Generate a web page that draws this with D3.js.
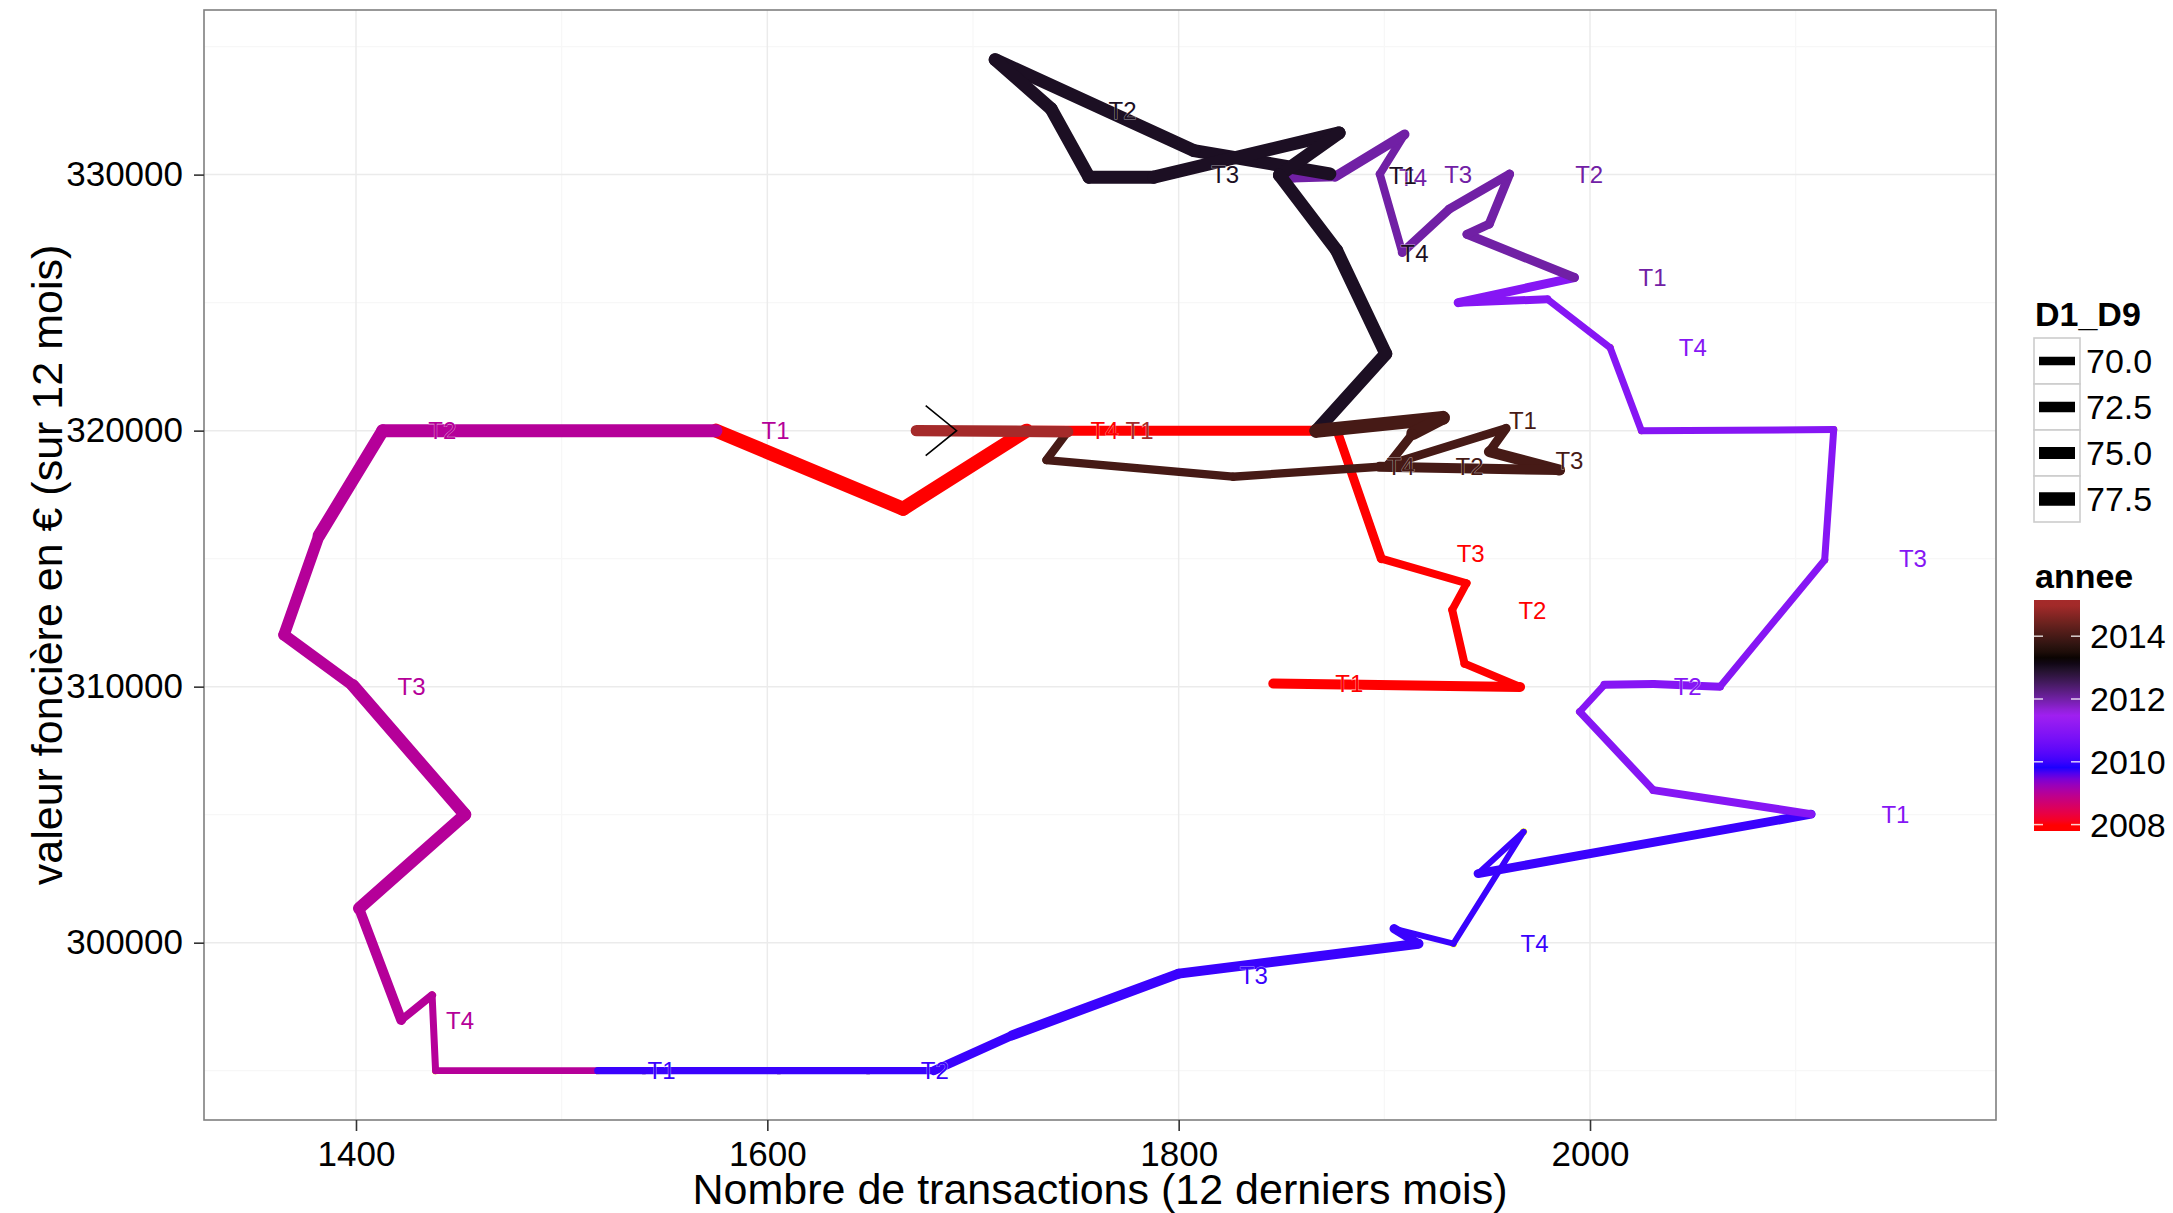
<!DOCTYPE html>
<html>
<head>
<meta charset="utf-8">
<script src="https://cdn.jsdelivr.net/npm/d3@7"></script>
<style>
  html, body { margin: 0; padding: 0; background: #ffffff; }
  text { font-family: "Liberation Sans", Arial, sans-serif; }
</style>
</head>
<body>
<svg id="chart" width="2173" height="1213"></svg>
<script>
// ---------------- DATA ----------------
const pathX = [
  1846, 1966, 1939, 1933, 1940, 1898.5, 1877, 1726, 1666,
  1575, 1413, 1382, 1365, 1398.5, 1453, 1401.5, 1422, 1437, 1438.7,
  1517.6, 1540, 1605.6, 1649, 1681, 1719, 1800, 1916.6, 1904.7, 1933.6, 1967.7, 1945.6,
  2107.5, 2030.8, 1995, 2007, 2030.8, 2063.2, 2114.1, 2118.5, 2025, 2009.8, 1979.3, 1935.9,
  1992.4, 1940.2, 1951, 1960.9, 1931.5, 1908.7, 1897.8, 1909.8, 1876, 1855,
  1873.5, 1807.4, 1710.8, 1738, 1756.4, 1787.9, 1878, 1849, 1876.8, 1900.7,
  1866.9, 1928.5, 1913.9, 1901.8, 1959.2, 1951.1, 1985.2, 1897.7, 1826.3, 1735.7,
  1746, 1672.5
];
const pathY = [
  310120, 309990, 310900, 313000, 314040, 315000, 320000, 320000, 316950,
  320000, 320000, 315900, 312020, 310050, 305000, 301340, 296980, 297950, 295000,
  295000, 295000, 295000, 295000, 295000, 296380, 298790, 299960, 300550, 299960, 304330, 302700,
  305020, 305960, 309020, 310070, 310100, 310000, 314950, 320040, 320000, 323240, 325130, 325000,
  325980, 327670, 328070, 330020, 328650, 326960, 330020, 331570, 329920, 329870,
  330030, 330940, 334490, 332570, 329900, 329900, 331630, 329980, 327040, 323000,
  319990, 320500, 319890, 318660, 320090, 319180, 318460, 318590, 318200, 318850,
  319960, 320000
];
const pathYear = [
  2008, 2008, 2008, 2008, 2008, 2008, 2008, 2008, 2008,
  2009, 2009, 2009, 2009, 2009, 2009, 2009, 2009, 2009, 2009,
  2010, 2010, 2010, 2010, 2010, 2010, 2010, 2010, 2010, 2010, 2010, 2010,
  2011, 2011, 2011, 2011, 2011, 2011, 2011, 2011, 2011, 2011, 2011, 2011,
  2012, 2012, 2012, 2012, 2012, 2012, 2012, 2012, 2012, 2012,
  2013, 2013, 2013, 2013, 2013, 2013, 2013, 2013, 2013, 2013,
  2014, 2014, 2014, 2014, 2014, 2014, 2014, 2014, 2014, 2014,
  2015, 2015
];
const pathD1D9 = [
  72.1, 69.1, 69.1, 68.4, 69.1, 70.6, 72.1, 78.1, 78.1,
  76.6, 76.0, 74.3, 74.3, 76.0, 75.5, 72.1, 69.1, 67.6, 67.2,
  68.1, 68.1, 68.1, 68.1, 70.6, 72.1, 72.1, 70.6, 66.1, 66.1, 66.1, 70.6,
  69.1, 68.4, 67.6, 69.1, 69.1, 67.6, 67.6, 67.6, 67.6, 67.6, 69.1, 70.6,
  70.6, 70.6, 70.6, 70.6, 70.6, 69.1, 69.1, 72.1, 70.6, 70.6,
  76.6, 76.6, 76.6, 76.6, 76.6, 76.6, 76.6, 76.6, 76.6, 76.6,
  78.1, 77.0, 70.6, 69.9, 70.6, 73.6, 72.1, 69.6, 69.6, 69.6,
  74.3, 74.3
];

const labelText = [
  "T1", "T2", "T3", "T4",
  "T1", "T2", "T3", "T4",
  "T1", "T2", "T3", "T4",
  "T1", "T2", "T3", "T4",
  "T1", "T2", "T3", "T4",
  "T1", "T2", "T3", "T4",
  "T1", "T2", "T3", "T4",
  "T1"
];
const labelX = [
  1883, 1972, 1942, 1764,
  1604, 1442, 1427, 1450.6,
  1548.6, 1681.4, 1836.5, 1973,
  2148.5, 2047.5, 2157, 2050,
  2030.4, 1999.6, 1935.9, 1914,
  1909, 1772.7, 1822.6, 1914.7,
  1967.4, 1941.4, 1990, 1908,
  1781
];
const labelY = [
  310110, 312990, 315220, 320000,
  320000, 320000, 310000, 296977,
  295020, 295020, 298720, 299960,
  305020, 310000, 315000, 323230,
  325980, 330000, 330000, 329900,
  329950, 332500, 330000, 326930,
  320410, 318590, 318850, 318590,
  320000
];
const labelYear = [
  2008, 2008, 2008, 2008,
  2009, 2009, 2009, 2009,
  2010, 2010, 2010, 2010,
  2011, 2011, 2011, 2011,
  2012, 2012, 2012, 2012,
  2013, 2013, 2013, 2013,
  2014, 2014, 2014, 2014,
  2015
];

const arrowX = [1677, 1692, 1677];
const arrowY = [320980, 320000, 319020];

const xTicks = [1400, 1600, 1800, 2000];
const xMinor = [1500, 1700, 1900, 2100];
const yTicks = [300000, 310000, 320000, 330000];
const yMinor = [295000, 305000, 315000, 325000, 335000];
const sizeBreaks = [70.0, 72.5, 75.0, 77.5];
const sizeLabels = ["70.0", "72.5", "75.0", "77.5"];
const yearBreaks = [2014, 2012, 2010, 2008];

const colourStops = ["#FF0000", "#0000FF", "#A020F0", "#000000", "#A52A2A"];

// ---------------- SCALES ----------------
const P = { left: 204, right: 1996, top: 10, bottom: 1120 };
const x = d3.scaleLinear().domain([1326.1, 2197.4]).range([P.left, P.right]);
const y = d3.scaleLinear().domain([293074, 336430]).range([P.bottom, P.top]);
const colour = d3.scaleLinear()
  .domain([2008, 2009.75, 2011.5, 2013.25, 2015])
  .range(colourStops)
  .interpolate(d3.interpolateLab)
  .clamp(true);
const lw = d3.scaleLinear().domain([70, 77.5]).range([8.6, 13.6]);

const svg = d3.select("#chart");
svg.append("rect").attr("width", 2173).attr("height", 1213).attr("fill", "#ffffff");

svg.append("rect").attr("x", P.left).attr("y", P.top)
  .attr("width", P.right - P.left).attr("height", P.bottom - P.top).attr("fill", "#ffffff");

// grid
const grid = svg.append("g");
grid.selectAll(".vmin").data(xMinor.filter(v => x(v) > P.left && x(v) < P.right)).join("line")
  .attr("x1", d => x(d)).attr("x2", d => x(d)).attr("y1", P.top).attr("y2", P.bottom)
  .attr("stroke", "#F7F7F7").attr("stroke-width", 1.2);
grid.selectAll(".hmin").data(yMinor.filter(v => y(v) > P.top && y(v) < P.bottom)).join("line")
  .attr("y1", d => y(d)).attr("y2", d => y(d)).attr("x1", P.left).attr("x2", P.right)
  .attr("stroke", "#F7F7F7").attr("stroke-width", 1.2);
grid.selectAll(".vmaj").data(xTicks).join("line")
  .attr("x1", d => x(d)).attr("x2", d => x(d)).attr("y1", P.top).attr("y2", P.bottom)
  .attr("stroke", "#EBEBEB").attr("stroke-width", 1.5);
grid.selectAll(".hmaj").data(yTicks).join("line")
  .attr("y1", d => y(d)).attr("y2", d => y(d)).attr("x1", P.left).attr("x2", P.right)
  .attr("stroke", "#EBEBEB").attr("stroke-width", 1.5);

// data
const pts = pathX.map((v, i) => ({ x: v, y: pathY[i], year: pathYear[i], d: pathD1D9[i] }));
const segs = pts.slice(0, -1).map((p, i) => ({ a: p, b: pts[i + 1] }));

const plot = svg.append("g");
plot.selectAll("circle.pt").data(pts).join("circle")
  .attr("cx", d => x(d.x)).attr("cy", d => y(d.y)).attr("r", 3.6)
  .attr("fill", "#FFFF00");

plot.selectAll("line.seg").data(segs).join("line")
  .attr("x1", d => x(d.a.x)).attr("y1", d => y(d.a.y))
  .attr("x2", d => x(d.b.x)).attr("y2", d => y(d.b.y))
  .attr("stroke", d => colour(d.a.year))
  .attr("stroke-width", d => lw(d.a.d))
  .attr("stroke-linecap", "round");

// arrow
const arrowLine = d3.line().x(d => x(d[0])).y(d => y(d[1]));
plot.append("path")
  .attr("d", arrowLine(arrowX.map((v, i) => [v, arrowY[i]])))
  .attr("fill", "none").attr("stroke", "#000000").attr("stroke-width", 1.6);

// labels
const labs = labelText.map((t, i) => ({ t, x: labelX[i], y: labelY[i], year: labelYear[i] }));
plot.selectAll("text.lab").data(labs).join("text")
  .attr("x", d => x(d.x)).attr("y", d => y(d.y))
  .attr("text-anchor", "middle").attr("dominant-baseline", "central")
  .attr("font-size", 24)
  .attr("fill", d => colour(d.year))
  .attr("stroke", "#ffffff").attr("stroke-opacity", 0.6).attr("stroke-width", 0.9)
  .attr("paint-order", "stroke")
  .text(d => d.t);

// panel border
svg.append("rect").attr("x", P.left).attr("y", P.top)
  .attr("width", P.right - P.left).attr("height", P.bottom - P.top)
  .attr("fill", "none").attr("stroke", "#7F7F7F").attr("stroke-width", 1.6);

// axes
const xAxis = svg.append("g").attr("transform", `translate(0,${P.bottom})`)
  .call(d3.axisBottom(x).tickValues(xTicks).tickSize(11).tickPadding(10).tickFormat(d3.format("d")));
const yAxis = svg.append("g").attr("transform", `translate(${P.left},0)`)
  .call(d3.axisLeft(y).tickValues(yTicks).tickSize(10).tickPadding(11).tickFormat(d3.format("d")));
[xAxis, yAxis].forEach(g => {
  g.select(".domain").remove();
  g.selectAll(".tick line").attr("stroke", "#333333").attr("stroke-width", 1.6);
  g.selectAll(".tick text").attr("fill", "#000000").attr("font-size", 35)
    .attr("font-family", "'Liberation Sans', Arial, sans-serif");
});

// axis titles
svg.append("text").attr("x", (P.left + P.right) / 2).attr("y", 1204)
  .attr("text-anchor", "middle").attr("font-size", 43).attr("fill", "#000")
  .text("Nombre de transactions (12 derniers mois)");
svg.append("text")
  .attr("transform", `translate(62,${(P.top + P.bottom) / 2}) rotate(-90)`)
  .attr("text-anchor", "middle").attr("font-size", 43).attr("fill", "#000")
  .text("valeur foncière en € (sur 12 mois)");

// ---------------- LEGENDS ----------------
const lg = svg.append("g");
lg.append("text").attr("x", 2035).attr("y", 326).attr("font-size", 34)
  .attr("font-weight", "bold").text("D1_D9");
const keyTop = 338, keyH = 46, keyX = 2034, keyW = 46;
const keys = lg.selectAll("g.key").data(sizeBreaks).join("g")
  .attr("transform", (d, i) => `translate(${keyX},${keyTop + i * keyH})`);
keys.append("rect").attr("width", keyW).attr("height", keyH)
  .attr("fill", "#ffffff").attr("stroke", "#CCCCCC").attr("stroke-width", 1.6);
keys.append("line").attr("x1", 5).attr("x2", keyW - 5)
  .attr("y1", keyH / 2).attr("y2", keyH / 2)
  .attr("stroke", "#000").attr("stroke-width", d => lw(d));
keys.append("text").attr("x", keyW + 6).attr("y", keyH / 2)
  .attr("dominant-baseline", "central").attr("font-size", 34)
  .text((d, i) => sizeLabels[i]);

lg.append("text").attr("x", 2035).attr("y", 588).attr("font-size", 34)
  .attr("font-weight", "bold").text("annee");

const barTop = 600, barBot = 831, barX = 2034, barW = 46;
const yLeg = d3.scaleLinear().domain([2008, 2015]).range([824.6, 604.8]);
const defs = svg.append("defs");
const grad = defs.append("linearGradient").attr("id", "cbar")
  .attr("gradientUnits", "userSpaceOnUse")
  .attr("x1", 0).attr("x2", 0).attr("y1", barBot).attr("y2", barTop);
const yrs = d3.range(0, 41).map(i => yLeg.invert(barBot + (barTop - barBot) * i / 40));
grad.selectAll("stop").data(yrs).join("stop")
  .attr("offset", (d, i) => i / 40)
  .attr("stop-color", d => colour(d));
lg.append("rect").attr("x", barX).attr("y", barTop).attr("width", barW)
  .attr("height", barBot - barTop).attr("fill", "url(#cbar)");
const tk = lg.selectAll("g.ctick").data(yearBreaks).join("g");
tk.append("line").attr("x1", barX).attr("x2", barX + 9)
  .attr("y1", d => yLeg(d)).attr("y2", d => yLeg(d))
  .attr("stroke", "#ffffff").attr("stroke-opacity", 0.8).attr("stroke-width", 1.5);
tk.append("line").attr("x1", barX + barW - 9).attr("x2", barX + barW)
  .attr("y1", d => yLeg(d)).attr("y2", d => yLeg(d))
  .attr("stroke", "#ffffff").attr("stroke-opacity", 0.8).attr("stroke-width", 1.5);
tk.append("text").attr("x", barX + barW + 10).attr("y", d => yLeg(d))
  .attr("dominant-baseline", "central").attr("font-size", 34)
  .text(d => d);
</script>
</body>
</html>
